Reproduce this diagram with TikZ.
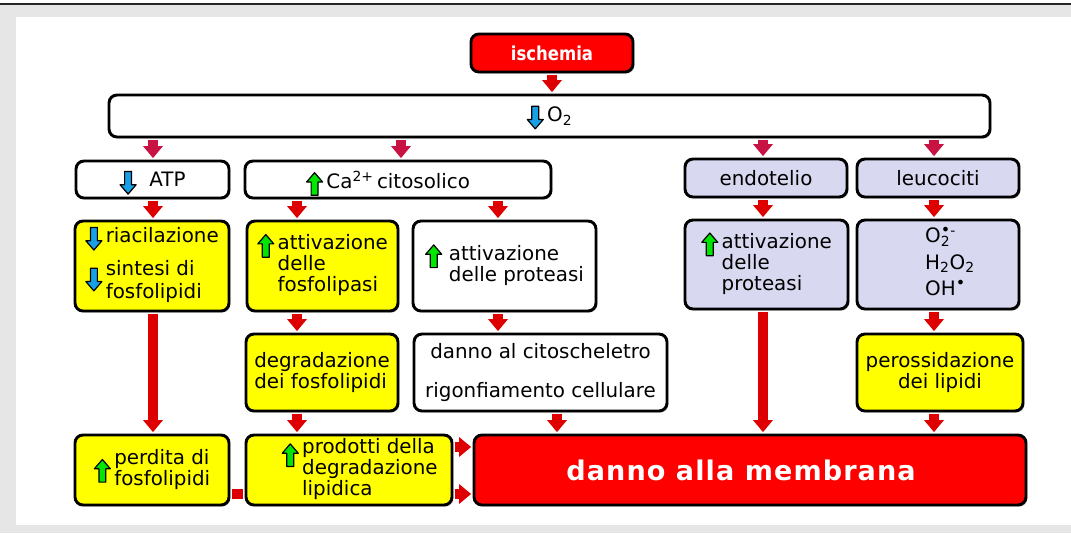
\documentclass[tikz,border=0pt]{standalone}
\usepackage{fontspec}
\setmainfont{DejaVu Sans}
\usepackage{xcolor}
\usepackage{tikz}
\usetikzlibrary{arrows.meta, shadows}

\definecolor{sfondo}{RGB}{230,230,230}
\definecolor{giallo}{RGB}{255,255,0}
\definecolor{lilla}{RGB}{216,216,240}
\definecolor{rosso}{RGB}{255,0,0}
\definecolor{frossa}{RGB}{222,0,0}
\definecolor{fcremisi}{RGB}{200,18,68}
\definecolor{blu}{RGB}{24,160,230}
\definecolor{verde}{RGB}{0,230,0}

\newcommand{\frecciagiu}{\smash{\tikz[baseline=5.5pt]\draw[sharp corners, black, line width=0.9pt, fill=blu, line join=round] (-2.6pt,17pt) -- (2.6pt,17pt) -- (2.6pt,7pt) -- (6pt,7pt) -- (0pt,0pt) -- (-6pt,7pt) -- (-2.6pt,7pt) -- cycle;}}
\newcommand{\frecciasu}{\smash{\tikz[baseline=5.5pt]\draw[sharp corners, black, line width=0.9pt, fill=verde, line join=round] (-2.6pt,0pt) -- (2.6pt,0pt) -- (2.6pt,10pt) -- (6pt,10pt) -- (0pt,17pt) -- (-6pt,10pt) -- (-2.6pt,10pt) -- cycle;}}

\begin{document}
\begin{tikzpicture}[x=0.75pt, y=-0.75pt,
  box/.style={draw=black, line width=2.2pt, rounded corners=6pt, inner sep=0pt,
    font=\fontsize{14.9}{14.3}\selectfont,
    drop shadow={shadow xshift=1pt, shadow yshift=-1.2pt, opacity=0.45}},
  boxbianco/.style={box, fill=white},
  boxgiallo/.style={box, fill=giallo},
  boxlilla/.style={box, fill=lilla},
  boxrosso/.style={box, fill=rosso, text=white},
  freccia/.style={line width=7.5pt, frossa, shorten <=1.1pt, shorten >=1.1pt,
    -{Triangle[length=9pt, width=15pt, line width=0pt]}},
  frecciacremisi/.style={freccia, fcremisi},
  barra/.style={line width=7.5pt, frossa, shorten <=1.1pt, shorten >=1.1pt}]
\useasboundingbox (0,0) rectangle (1071,533);
\fill[sfondo] (0,4) rectangle (1071,533);
\fill[white] (16,17) rectangle (1071,525);
\draw[line width=1.5pt, black!85] (0,4) -- (1071,4);

\node[boxrosso, minimum width=121.5pt, minimum height=28.5pt, font=\bfseries\fontsize{14.4}{15}\selectfont\addfontfeature{FakeStretch=0.86}] (isch) at (552,53) {ischemia};
\node[boxbianco, minimum width=660.75pt, minimum height=31.5pt] (otwo) at (549.5,116) {\frecciagiu\,O\textsubscript{2}};

\node[boxbianco, minimum width=114.75pt, minimum height=27.75pt] (atp) at (152.5,179.5) {\frecciagiu\ \ ATP};
\node[boxbianco, minimum width=229.5pt, minimum height=27.75pt] (calcio) at (398,179.5) {\frecciasu\,Ca\textsuperscript{2+}\,citosolico\hspace*{15pt}};
\node[boxlilla, minimum width=121.5pt, minimum height=28.5pt] (endo) at (766,178) {endotelio};
\node[boxlilla, minimum width=121.5pt, minimum height=28.5pt] (leuco) at (938,178) {leucociti};

\node[boxgiallo, minimum width=115.5pt, minimum height=67.5pt] (riacil) at (152,266)
  {\begin{tabular}{@{}l@{\,}l@{}}\frecciagiu & riacilazione\\[9pt] \raisebox{-6pt}{\frecciagiu} & sintesi di\\ & fosfolipidi\end{tabular}};
\node[boxgiallo, minimum width=113.25pt, minimum height=67.5pt] (fosfolip) at (322.5,266)
  {\begin{tabular}{@{}l@{\,}l@{}}\frecciasu & attivazione\\ & delle\\ & fosfolipasi\end{tabular}};
\node[boxbianco, minimum width=137.25pt, minimum height=67.5pt] (protbianco) at (504.5,266)
  {\begin{tabular}{@{}l@{\,\,}l@{}}\frecciasu & attivazione\\ & delle proteasi\end{tabular}};
\node[boxlilla, minimum width=122.25pt, minimum height=66.75pt] (protlilla) at (766.5,264.5)
  {\begin{tabular}{@{}l@{\,}l@{}}\frecciasu & attivazione\\ & delle\\ & proteasi\end{tabular}};
\node[boxlilla, minimum width=121.5pt, minimum height=66.75pt] (radicali) at (938,264.5)
  {\begin{tabular}{@{\hspace{18pt}}l@{}}O\rlap{\textsubscript{2}}\textsuperscript{{\large•}-}\\[4.5pt] H\textsubscript{2}O\textsubscript{2}\\[4.5pt] OH\textsuperscript{\large•}\end{tabular}};

\node[boxgiallo, minimum width=114pt, minimum height=57.75pt, align=left] (degrad) at (322,372.5) {degradazione\\dei fosfolipidi};
\node[boxbianco, minimum width=189.75pt, minimum height=57.75pt, align=center] (citosch) at (540.5,372.5) {danno al citoscheletro\\[14.5pt]rigonfiamento cellulare};
\node[boxgiallo, minimum width=124.5pt, minimum height=57.75pt, align=center] (perox) at (940,372.5) {perossidazione\\dei lipidi};

\node[boxgiallo, minimum width=115.5pt, minimum height=52.5pt] (perdita) at (152,470)
  {\begin{tabular}{@{}l@{\,}l@{}}\frecciasu & \begin{tabular}{@{}l@{}}perdita di\\fosfolipidi\end{tabular}\end{tabular}};
\node[boxgiallo, minimum width=154.5pt, minimum height=52.5pt] (prodotti) at (349,470)
  {\begin{tabular}{@{\hspace{16pt}}l@{\,}l@{}}\raisebox{-4pt}{\frecciasu} & prodotti della\\ & degradazione\\ & lipidica\end{tabular}};
\node[boxrosso, minimum width=414pt, minimum height=52.5pt, font=\bfseries\fontsize{20.3}{21}\selectfont\addfontfeature{LetterSpace=4}] (danno) at (750,470) {danno alla membrana\hspace*{13.5pt}};

\coordinate (cA) at (153,0);
\coordinate (cB) at (297,0);
\coordinate (cC) at (401,0);
\coordinate (cD) at (498,0);
\coordinate (cE) at (557,0);
\coordinate (cF) at (763,0);
\coordinate (cG) at (934,0);
\coordinate (rA) at (0,447);
\coordinate (rB) at (0,494);

\draw[freccia] (isch.south) -- (isch.south |- otwo.north);
\foreach \a/\c in {atp/cA, calcio/cC, endo/cF, leuco/cG}
  \draw[frecciacremisi] (otwo.south -| \c) -- (\a.north -| \c);
\foreach \da/\a/\c in {atp/riacil/cA, riacil/perdita/cA, calcio/fosfolip/cB, fosfolip/degrad/cB,
    degrad/prodotti/cB, calcio/protbianco/cD, protbianco/citosch/cD, citosch/danno/cE,
    endo/protlilla/cF, protlilla/danno/cF, leuco/radicali/cG, radicali/perox/cG, perox/danno/cG}
  \draw[freccia] (\da.south -| \c) -- (\a.north -| \c);
\foreach \r in {rA, rB}
  \draw[freccia] (prodotti.east |- \r) -- (danno.west |- \r);
\draw[barra] (perdita.east |- rB) -- (prodotti.west |- rB);
\end{tikzpicture}
\end{document}
